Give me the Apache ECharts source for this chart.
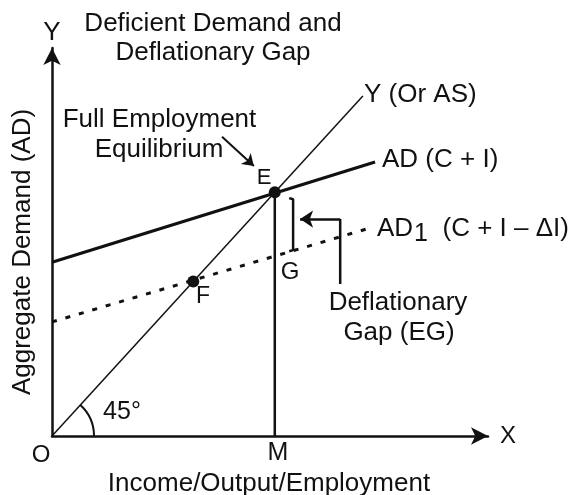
<!DOCTYPE html>
<html>
<head>
<meta charset="utf-8">
<script src="https://cdn.jsdelivr.net/npm/echarts@6/dist/echarts.min.js"></script>
<style>html,body{margin:0;padding:0;background:#fff}#c{width:569px;height:495px}</style>
</head>
<body>
<div id="c"></div>
<script>
// ---- data (diagram units) ----
const line45 = [[0, 0], [71.3, 87.6]];            // Y (Or AS)
const adLine = [[0, 44.8], [74.1, 70.6]];          // AD (C + I)
const ad1Line = [[0, 29.4], [72.0, 53.3]];         // AD1 (C + I - dI)
const pointE = [51.1, 62.8];
const pointF = [32.4, 39.8];
const lineEM = [[51.1, 0], [51.1, 62.8]];
const gapBracket = [[54.4, 61.3], [55.3, 61.0], [55.3, 47.9], [54.4, 47.6]];
const gapArrow = [[66.1, 55.9], [56.9, 55.9]];
const gapStem = [[66.1, 55.9], [66.1, 39.2]];
const eqArrow = [[39.0, 77.1], [46.3, 69.6]];
const angleArcCenter = [[0, 0]];

const FONT = '"Liberation Sans", Arial, Helvetica, sans-serif';
const INK = '#111';

function txt(text, x, y, size, align, extra) {
  return Object.assign({
    type: 'text', x: x, y: y, silent: true,
    style: { text: text, font: size + 'px ' + FONT, fill: INK, align: align || 'center', verticalAlign: 'middle' }
  }, extra || {});
}

const chart = echarts.init(document.getElementById('c'), null, { renderer: 'canvas' });
const option = {
  backgroundColor: '#fff',
  animation: false,
  grid: { left: 52, top: 48, width: 436, height: 388, containLabel: false },
  xAxis: {
    type: 'value', min: 0, max: 100,
    axisLine: { show: true, symbol: ['none', 'arrow'], symbolSize: [13, 17], lineStyle: { color: INK, width: 2.5 } },
    axisTick: { show: false }, axisLabel: { show: false }, splitLine: { show: false }
  },
  yAxis: {
    type: 'value', min: 0, max: 100,
    axisLine: { show: true, symbol: ['none', 'arrow'], symbolSize: [13, 17], lineStyle: { color: INK, width: 2.5 } },
    axisTick: { show: false }, axisLabel: { show: false }, splitLine: { show: false }
  },
  series: [
    { type: 'line', data: line45, showSymbol: false, lineStyle: { color: INK, width: 1.5 }, z: 3 },
    { type: 'line', data: adLine, showSymbol: false, lineStyle: { color: INK, width: 3.2 }, z: 3 },
    { type: 'line', data: ad1Line, showSymbol: false, lineStyle: { color: INK, width: 3, type: [5, 9] }, z: 3 },
    { type: 'line', data: lineEM, showSymbol: false, lineStyle: { color: INK, width: 2.5 }, z: 3 },
    { type: 'line', data: gapBracket, showSymbol: false, lineStyle: { color: INK, width: 2.5 }, z: 3 },
    { type: 'line', data: gapStem, showSymbol: false, lineStyle: { color: INK, width: 2.5 }, z: 3 },
    {
      type: 'lines', coordinateSystem: 'cartesian2d', z: 4,
      symbol: ['none', 'arrow'], symbolSize: 13,
      lineStyle: { color: INK, width: 2.5, opacity: 1 },
      data: [{ coords: gapArrow }]
    },
    {
      type: 'lines', coordinateSystem: 'cartesian2d', z: 4,
      symbol: ['none', 'arrow'], symbolSize: 11,
      lineStyle: { color: INK, width: 2, opacity: 1 },
      data: [{ coords: eqArrow }]
    },
    {
      type: 'scatter', data: [pointE, pointF], symbol: 'circle', symbolSize: 12,
      itemStyle: { color: INK, opacity: 1 }, z: 5
    },
    {
      type: 'custom', data: angleArcCenter, z: 4,
      renderItem: function (params, api) {
        const c = api.coord([api.value(0), api.value(1)]);
        const end = api.coord(line45[1]);
        const ang = Math.atan2(end[1] - c[1], end[0] - c[0]);
        return {
          type: 'arc',
          shape: { cx: c[0], cy: c[1], r: 42, startAngle: ang, endAngle: 0, clockwise: true },
          style: { stroke: INK, lineWidth: 2, fill: null }
        };
      }
    }
  ],
  graphic: [
    txt('Deficient Demand and', 213, 23.5, 26),
    txt('Deflationary Gap', 213, 52.5, 26),
    txt('Y', 52, 33, 26),
    txt('Full Employment', 159.5, 120, 26),
    txt('Equilibrium', 159, 149.5, 26),
    txt('Y (Or AS)', 364, 95, 26, 'left'),
    txt('AD (C + I)', 382, 160, 26, 'left'),
    {
      type: 'text', x: 377, y: 228.5, silent: true,
      style: {
        text: '{a|AD}{s|1}{a|  (C + I – ΔI)}', align: 'left', verticalAlign: 'middle',
        rich: {
          a: { font: '26px ' + FONT, fill: INK },
          s: { font: '25px ' + FONT, fill: INK, padding: [12, 0, 0, 1] }
        }
      }
    },
    txt('E', 264, 178, 22),
    txt('F', 203, 297, 23),
    txt('G', 290, 272, 24),
    txt('Deflationary', 398, 303, 26),
    txt('Gap (EG)', 399, 333, 26),
    txt('45°', 122, 412, 25),
    txt('O', 41, 455, 24),
    txt('M', 278, 453, 25),
    txt('X', 508, 436, 24),
    txt('Income/Output/Employment', 269, 484, 26),
    txt('Aggregate Demand (AD)', 23, 252, 26, 'center', { rotation: Math.PI / 2 })
  ]
};
chart.setOption(option);
</script>
</body>
</html>
